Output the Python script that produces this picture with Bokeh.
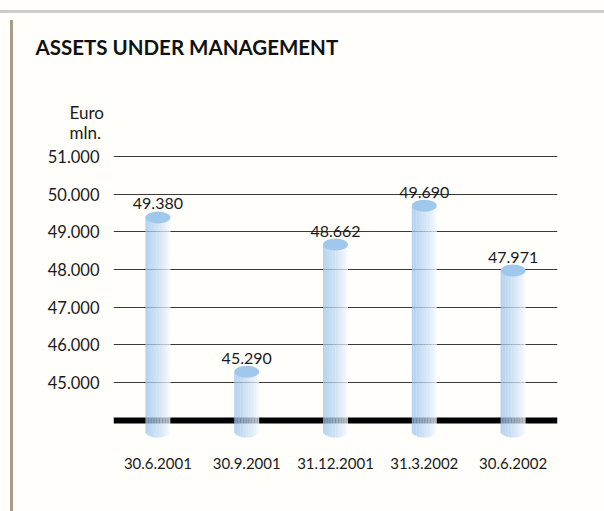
import numpy as np
from bokeh.plotting import figure
from bokeh.models import (Range1d, FixedTicker, Span, ColumnDataSource, Title,
                          InlineStyleSheet)
from bokeh.embed import file_html
from bokeh.resources import INLINE
from bokeh.core.properties import value

# ---- data ----
categories = ["30.6.2001", "30.9.2001", "31.12.2001", "31.3.2002", "30.6.2002"]
aum_values = [49380, 45290, 48662, 49690, 47971]
value_labels = ["49.380", "45.290", "48.662", "49.690", "47.971"]
y_ticks = [45000, 46000, 47000, 48000, 49000, 50000, 51000]
y_tick_labels = ["45.000", "46.000", "47.000", "48.000", "49.000", "50.000", "51.000"]
baseline_value = 44000

# ---- style constants ----
FONT = "Lato"
BAR_W = 0.28
N_STRIPES = 16
CAP_PX = 12
PX_PER_UNIT = 37.6 / 1000.0
BOTTOM_CENTER = 43707
left_rgb = np.array([160, 198, 238])
right_rgb = np.array([246, 249, 253])

xs = list(range(len(categories)))

p = figure(width=604, height=511, output_backend="svg", toolbar_location=None,
           x_range=Range1d(-0.5, 4.5), y_range=Range1d(43335, 51181),
           min_border_left=113, min_border_right=47, min_border_top=0,
           min_border_bottom=66)
p.outline_line_color = None
p.background_fill_color = "#fffefb"
p.border_fill_color = "#fffefb"

p.xgrid.grid_line_color = None
p.ygrid.ticker = FixedTicker(ticks=y_ticks)
p.ygrid.grid_line_color = "#3a3a3a"
p.ygrid.grid_line_width = 1.2

p.add_layout(Span(location=baseline_value, dimension="width", line_color="black",
                  line_width=6, level="underlay"))

sw = BAR_W / N_STRIPES
rx = BAR_W / 2
ry = (CAP_PX / 2) / PX_PER_UNIT
for i in range(N_STRIPES):
    off = -rx + sw * (i + 0.5)
    t = i / (N_STRIPES - 1)
    rgb = (left_rgb * (1 - t) ** 0.8 + right_rgb * (1 - (1 - t) ** 0.8)).astype(int)
    color = "#%02x%02x%02x" % tuple(rgb)
    bottom = BOTTOM_CENTER - ry * np.sqrt(max(0.0, 1 - (off / rx) ** 2))
    src = ColumnDataSource(dict(x=[x + off for x in xs], top=aum_values,
                                bottom=[bottom] * len(xs)))
    p.vbar(x="x", top="top", bottom="bottom", width=sw * 1.08, source=src,
           fill_color=color, fill_alpha=0.78, line_color=None)

cap_src = ColumnDataSource(dict(x=xs, y=aum_values, lab=value_labels))
p.ellipse(x="x", y="y", width=BAR_W, height=CAP_PX, height_units="screen",
          source=cap_src, fill_color="#9fc8ec", line_color=None)

p.text(x="x", y="y", text="lab", source=cap_src, text_align="center",
       text_baseline="bottom", y_offset=-8, text_font=value(FONT),
       text_font_size="16px", text_color="#1a1a1a")

p.yaxis.ticker = FixedTicker(ticks=y_ticks)
p.yaxis.major_label_overrides = {t: l for t, l in zip(y_ticks, y_tick_labels)}
p.yaxis.axis_line_color = None
p.yaxis.major_tick_line_color = None
p.yaxis.minor_tick_line_color = None
p.yaxis.major_label_standoff = 8
p.yaxis.major_label_text_font = FONT
p.yaxis.major_label_text_font_size = "16.5px"
p.yaxis.major_label_text_color = "#1a1a1a"

p.xaxis.ticker = FixedTicker(ticks=xs)
p.xaxis.major_label_overrides = {x: c for x, c in zip(xs, categories)}
p.xaxis.axis_line_color = None
p.xaxis.major_tick_line_color = None
p.xaxis.minor_tick_line_color = None
p.xaxis.major_label_standoff = 6
p.xaxis.major_label_text_font = FONT
p.xaxis.major_label_text_font_size = "15px"
p.xaxis.major_label_text_color = "#1a1a1a"

# texts above the frame, stacked from the frame outward
p.add_layout(Title(text="Euro\nmln.", align="left", offset=-44, standoff=13,
                   vertical_align="bottom", text_line_height=0.94,
                   text_font=FONT, text_font_size="17px", text_font_style="normal",
                   text_color="#1a1a1a"), "above")
p.add_layout(Title(text="ASSETS UNDER MANAGEMENT", align="left", offset=-78,
                   standoff=67, vertical_align="middle", text_font=FONT,
                   text_font_size="20.5px", text_font_style="bold",
                   text_color="#111111"), "above")

# scanned page edges
p.stylesheets = [InlineStyleSheet(css="""
:host::after { content: ''; position: absolute; left: 10px; top: 20px; width: 3px;
  height: 491px; background: #8c7863; opacity: 0.75; pointer-events: none; }
:host::before { content: ''; position: absolute; left: 0px; top: 10px; width: 604px;
  height: 3px; background: #9a8c80; opacity: 0.45; pointer-events: none; z-index: 5; }
""")]

open("out.html", "w").write(file_html(p, INLINE))
